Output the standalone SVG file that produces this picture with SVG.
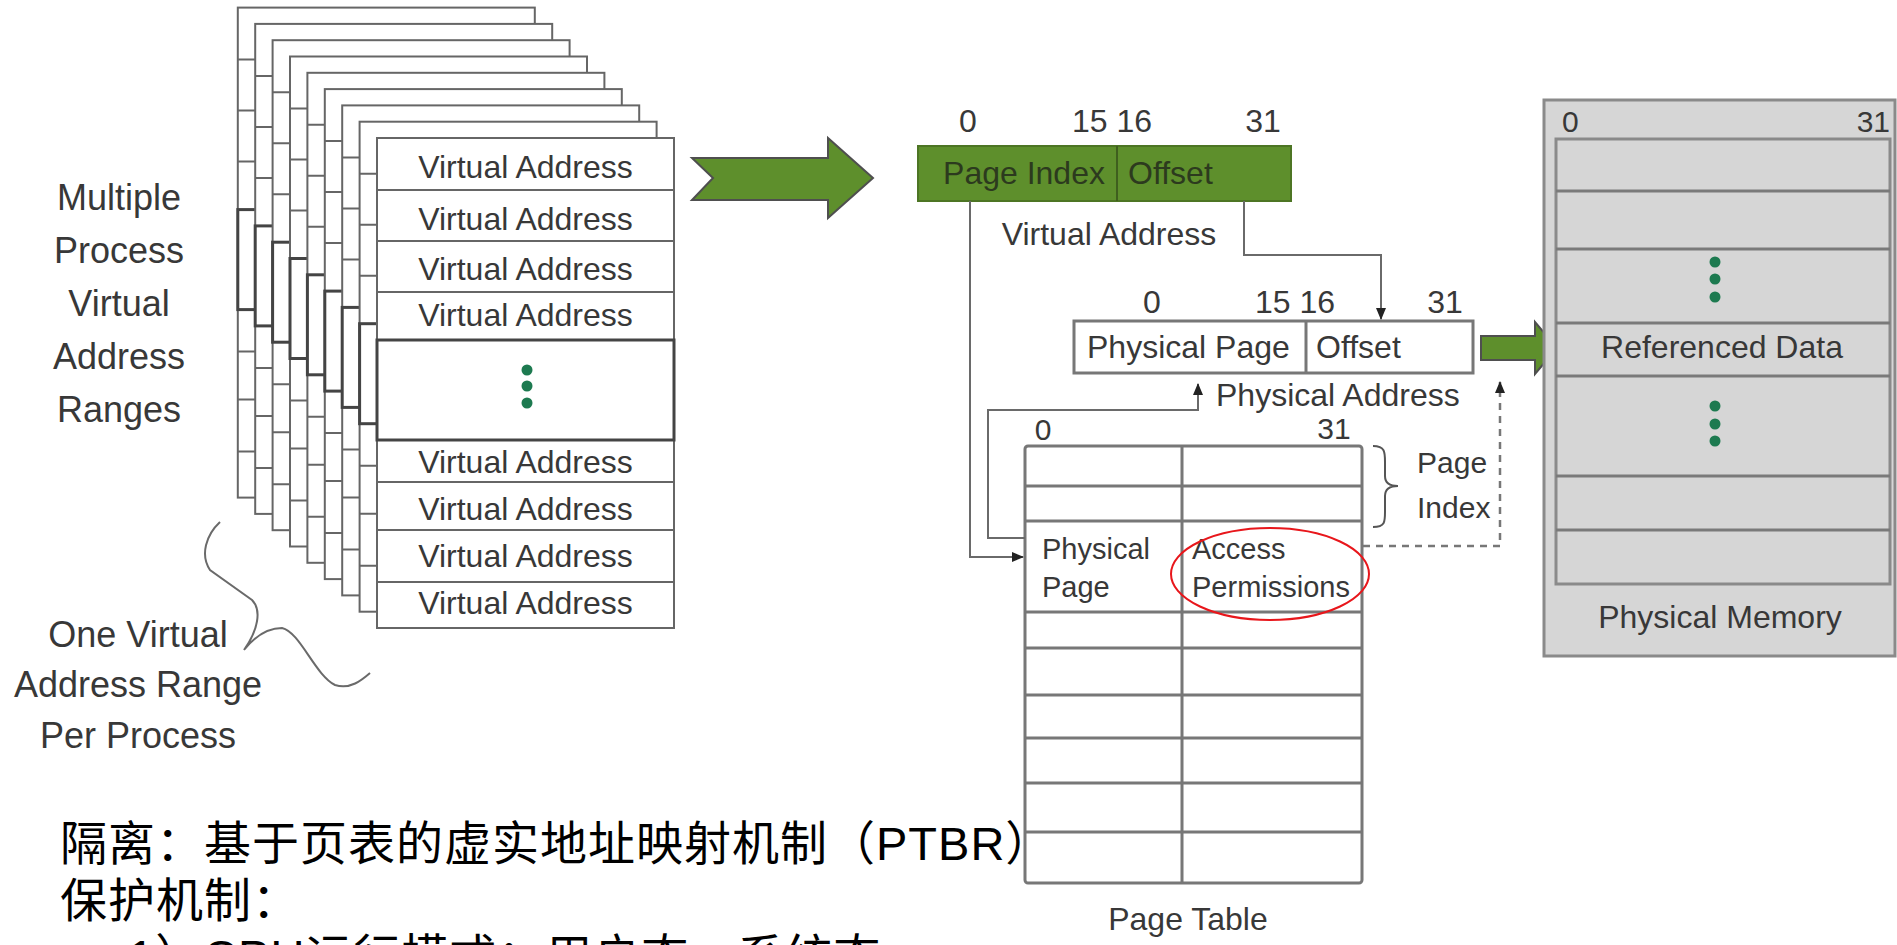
<svg xmlns="http://www.w3.org/2000/svg" xmlns:xlink="http://www.w3.org/1999/xlink" width="1897" height="945" viewBox="0 0 1897 945">
<style>
  .t { font-family: "Liberation Sans", Arial, sans-serif; fill: #383838; }
  .lbl { font-size: 36px; text-anchor: middle; }
  .va { font-size: 32px; text-anchor: middle; }
  .f32 { font-size: 32px; }
  .f30 { font-size: 30px; }
  .f29 { font-size: 29px; }
  .mid { text-anchor: middle; }
  .end { text-anchor: end; }
  .gt { fill: #2c3a1e; }
  .frame { fill: #ffffff; stroke: #666666; stroke-width: 2; }
  .fl { stroke: #666666; stroke-width: 2; }
  .dotbox { fill: #ffffff; stroke: #444444; stroke-width: 3; }
  .conn { fill: none; stroke: #6a6a6a; stroke-width: 2; }
  .dash { fill: none; stroke: #777777; stroke-width: 2.5; stroke-dasharray: 7 6; }
  .grn { fill: #5e8f2c; stroke: #4f4f4f; stroke-width: 2; }
  .dot { fill: #1d7a50; }
  .box { fill: #ffffff; stroke: #777777; stroke-width: 3; }
  .bl { stroke: #777777; stroke-width: 3; }
  .mem { fill: #d6d6d6; stroke: #8a8a8a; stroke-width: 3; }
  .ml { stroke: #7a7a7a; stroke-width: 3; }
  .cjk { font-family: "Liberation Sans", "Noto Sans CJK SC", sans-serif; font-size: 47px; fill: #000000; letter-spacing: 1px; }
</style>
<defs>
  <marker id="ah" markerWidth="12" markerHeight="10" refX="11" refY="5" orient="auto" markerUnits="userSpaceOnUse">
    <path d="M0,0 L12,5 L0,10 z" fill="#222222"/>
  </marker>
  <g id="frameShape">
    <rect class="frame" x="0" y="0" width="297" height="490"/>
    <line class="fl" x1="0" y1="52" x2="297" y2="52"/>
    <line class="fl" x1="0" y1="103" x2="297" y2="103"/>
    <line class="fl" x1="0" y1="154" x2="297" y2="154"/>
    <rect class="dotbox" x="0" y="202" width="297" height="100"/>
    <line class="fl" x1="0" y1="344" x2="297" y2="344"/>
    <line class="fl" x1="0" y1="392" x2="297" y2="392"/>
    <line class="fl" x1="0" y1="444" x2="297" y2="444"/>
  </g>
</defs>
<rect x="0" y="0" width="1897" height="945" fill="#ffffff"/>

<!-- Left labels -->
<g id="label-multiple">
  <text class="t lbl" x="119" y="210">Multiple</text>
  <text class="t lbl" x="119" y="263">Process</text>
  <text class="t lbl" x="119" y="316">Virtual</text>
  <text class="t lbl" x="119" y="369">Address</text>
  <text class="t lbl" x="119" y="422">Ranges</text>
</g>
<g id="label-one">
  <text class="t lbl" x="138" y="647">One Virtual</text>
  <text class="t lbl" x="138" y="697">Address Range</text>
  <text class="t lbl" x="138" y="748">Per Process</text>
  <path class="conn" d="M220,522 C206,535 200,555 210,570 L252,600 C262,610 258,630 244,650 C252,640 265,628 282,628 C300,632 315,675 335,685 C350,690 362,680 370,673" stroke="#555555"/>
</g>

<!-- Stack of virtual address ranges -->
<g id="vas-stack">
  <use xlink:href="#frameShape" href="#frameShape" transform="translate(237.8,7.6)"/>
  <use xlink:href="#frameShape" href="#frameShape" transform="translate(255.2,23.9)"/>
  <use xlink:href="#frameShape" href="#frameShape" transform="translate(272.6,40.2)"/>
  <use xlink:href="#frameShape" href="#frameShape" transform="translate(290,56.5)"/>
  <use xlink:href="#frameShape" href="#frameShape" transform="translate(307.4,72.8)"/>
  <use xlink:href="#frameShape" href="#frameShape" transform="translate(324.8,89.1)"/>
  <use xlink:href="#frameShape" href="#frameShape" transform="translate(342.2,105.4)"/>
  <use xlink:href="#frameShape" href="#frameShape" transform="translate(359.6,121.7)"/>
</g>
<g id="vas-front">
  <use xlink:href="#frameShape" href="#frameShape" transform="translate(377,138)"/>
  <text class="t va" x="525.5" y="178">Virtual Address</text>
  <text class="t va" x="525.5" y="230">Virtual Address</text>
  <text class="t va" x="525.5" y="280">Virtual Address</text>
  <text class="t va" x="525.5" y="326">Virtual Address</text>
  <circle class="dot" cx="527" cy="370" r="5.5"/>
  <circle class="dot" cx="527" cy="386" r="5.5"/>
  <circle class="dot" cx="527" cy="403" r="5.5"/>
  <text class="t va" x="525.5" y="473">Virtual Address</text>
  <text class="t va" x="525.5" y="520">Virtual Address</text>
  <text class="t va" x="525.5" y="567">Virtual Address</text>
  <text class="t va" x="525.5" y="614">Virtual Address</text>
</g>

<!-- Big green arrow -->
<g id="arrow-big">
  <path class="grn" d="M692,158 L828,158 L828,138 L873,178 L828,218 L828,200 L692,200 L713,178 z"/>
</g>

<!-- Virtual address register -->
<g id="virtual-address">
  <text class="t f32 mid" x="968" y="132">0</text>
  <text class="t f32 mid" x="1112" y="132">15 16</text>
  <text class="t f32 mid" x="1263" y="132">31</text>
  <rect x="918" y="146" width="373" height="55" fill="#5e8f2c" stroke="#4d7524" stroke-width="2"/>
  <line x1="1117" y1="146" x2="1117" y2="201" stroke="#3f5f1e" stroke-width="2"/>
  <text class="t f32 mid gt" x="1024" y="184">Page Index</text>
  <text class="t f32 gt" x="1128" y="184">Offset</text>
  <text class="t f32 mid" x="1109" y="245">Virtual Address</text>
</g>

<!-- Physical address register -->
<g id="physical-address">
  <text class="t f32 mid" x="1152" y="313">0</text>
  <text class="t f32 mid" x="1295" y="313">15 16</text>
  <text class="t f32 mid" x="1445" y="313">31</text>
  <rect class="box" x="1074" y="321" width="399" height="52"/>
  <line class="bl" x1="1306" y1="321" x2="1306" y2="373"/>
  <text class="t f32" x="1087" y="358">Physical Page</text>
  <text class="t f32" x="1316" y="358">Offset</text>
  <text class="t f32" x="1216" y="406">Physical Address</text>
</g>

<!-- Page table -->
<g id="page-table">
  <text class="t f30 mid" x="1043" y="440">0</text>
  <text class="t f30 mid" x="1334" y="439">31</text>
  <rect class="box" x="1025" y="446" width="337" height="437" rx="3"/>
  <line class="bl" x1="1182" y1="446" x2="1182" y2="883"/>
  <line class="bl" x1="1025" y1="486" x2="1362" y2="486"/>
  <line class="bl" x1="1025" y1="521" x2="1362" y2="521"/>
  <line class="bl" x1="1025" y1="612" x2="1362" y2="612"/>
  <line class="bl" x1="1025" y1="648" x2="1362" y2="648"/>
  <line class="bl" x1="1025" y1="695" x2="1362" y2="695"/>
  <line class="bl" x1="1025" y1="738" x2="1362" y2="738"/>
  <line class="bl" x1="1025" y1="783" x2="1362" y2="783"/>
  <line class="bl" x1="1025" y1="832" x2="1362" y2="832"/>
  <text class="t f29" x="1042" y="559">Physical</text>
  <text class="t f29" x="1042" y="597">Page</text>
  <text class="t f29" x="1192" y="559">Access</text>
  <text class="t f29" x="1192" y="597">Permissions</text>
  <ellipse cx="1270" cy="574" rx="99" ry="46" fill="none" stroke="#e8161b" stroke-width="2"/>
  <text class="t f32 mid" x="1188" y="930">Page Table</text>
</g>

<!-- Page index brace -->
<g id="page-index">
  <path d="M1373,446 C1385,446 1385,452 1385,462 L1385,476 C1385,483 1390,486 1398,486 C1390,486 1385,489 1385,496 L1385,512 C1385,522 1385,527 1373,527" fill="none" stroke="#555555" stroke-width="2"/>
  <text class="t f30" x="1417" y="473">Page</text>
  <text class="t f30" x="1417" y="518">Index</text>
</g>

<!-- Small green arrow -->
<g id="arrow-small">
  <path class="grn" d="M1481,336 L1535,336 L1535,322 L1557,348 L1535,374 L1535,360 L1481,360 z" stroke="#4f6f2a"/>
</g>

<!-- Physical memory -->
<g id="physical-memory">
  <rect class="mem" x="1544" y="100" width="351" height="556"/>
  <text class="t f30" x="1562" y="132">0</text>
  <text class="t f30 end" x="1890" y="132">31</text>
  <rect class="mem" x="1556" y="139" width="334" height="445" stroke="#7a7a7a"/>
  <line class="ml" x1="1556" y1="191" x2="1890" y2="191"/>
  <line class="ml" x1="1556" y1="249" x2="1890" y2="249"/>
  <line class="ml" x1="1556" y1="323" x2="1890" y2="323"/>
  <line class="ml" x1="1556" y1="376" x2="1890" y2="376"/>
  <line class="ml" x1="1556" y1="476" x2="1890" y2="476"/>
  <line class="ml" x1="1556" y1="530" x2="1890" y2="530"/>
  <circle class="dot" cx="1715" cy="262" r="5.5"/>
  <circle class="dot" cx="1715" cy="279" r="5.5"/>
  <circle class="dot" cx="1715" cy="297" r="5.5"/>
  <circle class="dot" cx="1715" cy="406" r="5.5"/>
  <circle class="dot" cx="1715" cy="424" r="5.5"/>
  <circle class="dot" cx="1715" cy="441" r="5.5"/>
  <text class="t f32 mid" x="1722" y="358">Referenced Data</text>
  <text class="t f32 mid" x="1720" y="628">Physical Memory</text>
</g>

<!-- Connectors -->
<g id="connectors">
  <path class="conn" d="M970,201 L970,557 L1023,557" marker-end="url(#ah)"/>
  <path class="conn" d="M1025,538 L988,538 L988,410 L1198,410 L1198,384" marker-end="url(#ah)"/>
  <path class="conn" d="M1244,201 L1244,255 L1381,255 L1381,319" marker-end="url(#ah)"/>
  <path class="dash" d="M1363,546 L1500,546 L1500,382" marker-end="url(#ah)"/>
</g>

<!-- Bottom text -->
<g id="notes">
  <text class="cjk" x="60" y="860">隔离：基于页表的虚实地址映射机制（PTBR）</text>
  <text class="cjk" x="60" y="917">保护机制：</text>
  <text class="cjk" x="128" y="973">1）CPU运行模式：用户态，系统态</text>
</g>
</svg>
